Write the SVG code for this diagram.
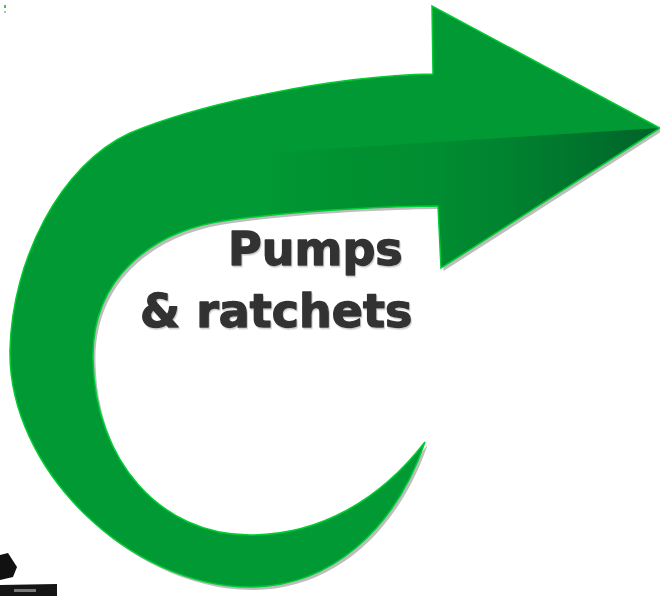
<svg xmlns="http://www.w3.org/2000/svg" xmlns:xlink="http://www.w3.org/1999/xlink" width="660" height="596" viewBox="0 0 660 596">
  <style>
    .label { font-family: "DejaVu Sans", "Liberation Sans", sans-serif; font-weight: bold; font-size: 46px; fill: #333333; stroke: #333333; stroke-width: 1.4px; stroke-linejoin: round; }
  </style>
  <defs>
    <path id="arrowShape" d="M 433,74 C 330,76 200,104 130,133 C 60,165 12,260 10,350 C 8,470 130,587 250,587 C 330,587 395,530 425,442 C 380,500 320,535 250,535 C 160,535 95,460 93,360 C 91,280 150,230 230,220 C 300,210 400,206 438,206 L 441,268 L 660,128 L 432,6 Z"/>
    <clipPath id="arrowClip">
      <use xlink:href="#arrowShape"/>
    </clipPath>
    <linearGradient id="darkGrad" gradientUnits="userSpaceOnUse" x1="265" y1="0" x2="645" y2="0">
      <stop offset="0" stop-color="#006a2a" stop-opacity="0"/>
      <stop offset="0.45" stop-color="#007a2e" stop-opacity="0.4"/>
      <stop offset="1" stop-color="#00652a" stop-opacity="1"/>
    </linearGradient>
    <filter id="textShadow" x="-5%" y="-10%" width="110%" height="130%">
      <feDropShadow dx="1" dy="1.5" stdDeviation="0.6" flood-color="#999999" flood-opacity="0.5"/>
    </filter>
  </defs>

  <rect width="660" height="596" fill="#ffffff"/>

  <g id="arrow">
    <use xlink:href="#arrowShape" transform="translate(2.5,3)" fill="#bdbdbd"/>
    <use xlink:href="#arrowShape" fill="#009933"/>
    <polygon points="265,153 660,128 660,300 265,300" fill="url(#darkGrad)" clip-path="url(#arrowClip)"/>
    <use xlink:href="#arrowShape" fill="none" stroke="#00cc33" stroke-width="1.5" stroke-linejoin="miter"/>
  </g>

  <g id="label" filter="url(#textShadow)">
    <text class="label" x="228" y="265">Pumps</text>
    <text class="label" x="140" y="327">&amp; ratchets</text>
  </g>

  <g id="corner-marks">
    <rect x="4" y="5" width="2" height="3" fill="#33cc55"/>
    <rect x="4" y="11" width="2" height="2" fill="#bbbbbb"/>
    <polygon points="0,555 8,553 17,567 13,577 0,580" fill="#111111"/>
    <polygon points="0,585 57,584 57,596 0,596" fill="#151515"/>
    <rect x="14" y="589" width="22" height="3" fill="#777777"/>
  </g>
</svg>
